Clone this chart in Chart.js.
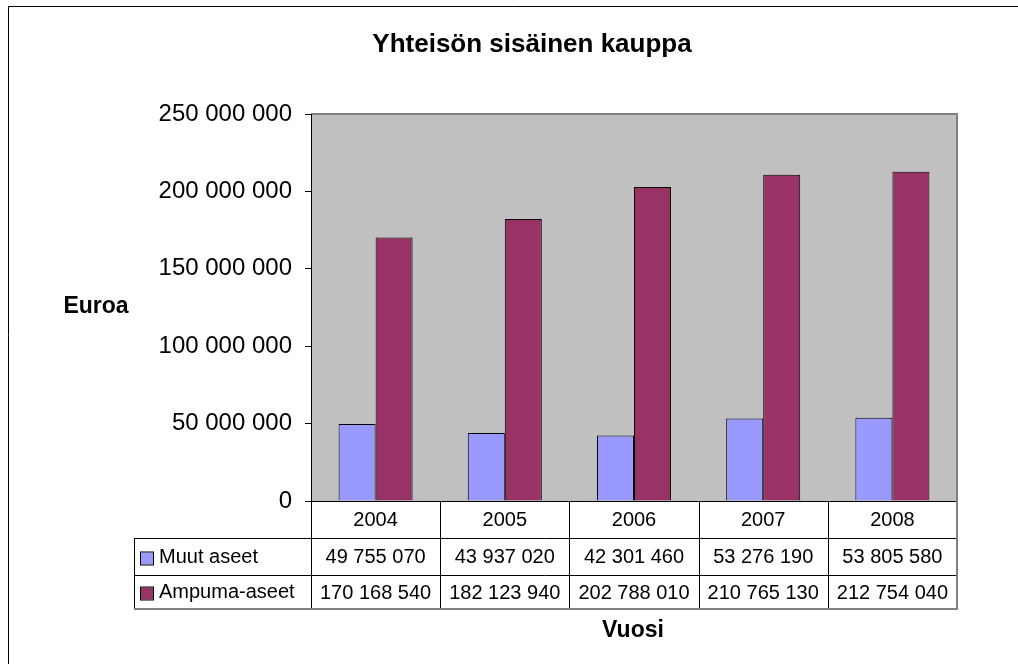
<!DOCTYPE html>
<html>
<head>
<meta charset="utf-8">
<style>
  html, body { margin: 0; padding: 0; background: #ffffff; }
  #wrap { width: 1018px; height: 664px; position: relative; }
  canvas { display: block; }
</style>
<script src="https://cdn.jsdelivr.net/npm/chart.js@4.4.1/dist/chart.umd.min.js"></script>
</head>
<body>
<div id="wrap"><canvas id="c" width="1018" height="664"></canvas></div>
<script>
const chartTitle = "Yhteisön sisäinen kauppa";
const yAxisTitle = "Euroa";
const xAxisTitle = "Vuosi";
const years = ["2004", "2005", "2006", "2007", "2008"];
const seriesNames = ["Muut aseet", "Ampuma-aseet"];
const muutAseet = [49755070, 43937020, 42301460, 53276190, 53805580];
const ampumaAseet = [170168540, 182123940, 202788010, 210765130, 212754040];
const seriesColors = ["#9999FF", "#993366"];
const yMin = 0, yMax = 250000000, yStep = 50000000;

function fmt(v) {
  return String(Math.round(v)).replace(/\B(?=(\d{3})+(?!\d))/g, " ");
}

const FONT = "'Liberation Sans', Arial, sans-serif";

const decorPlugin = {
  id: 'decor',
  beforeDraw(chart) {
    const { ctx, chartArea: a } = chart;
    ctx.save();
    // outer frame
    ctx.strokeStyle = '#000';
    ctx.lineWidth = 1;
    ctx.beginPath();
    ctx.moveTo(8.5, 700); ctx.lineTo(8.5, 6.5); ctx.lineTo(1100, 6.5);
    ctx.stroke();
    // plot background
    ctx.fillStyle = '#C0C0C0';
    ctx.fillRect(a.left, a.top, a.right - a.left, a.bottom - a.top);
    // top and right borders gray
    ctx.strokeStyle = '#808080';
    ctx.lineWidth = 2;
    ctx.beginPath();
    ctx.moveTo(a.left, a.top); ctx.lineTo(a.right, a.top); ctx.lineTo(a.right, a.bottom);
    ctx.stroke();
    ctx.restore();
  },
  afterDraw(chart) {
    const { ctx, chartArea: a } = chart;
    const xs = chart.scales.x;
    const n = years.length;
    const colW = (a.right - a.left) / n;
    const bounds = [];
    for (let i = 0; i <= n; i++) bounds.push(a.left + i * colW);
    const r0 = a.bottom, r1 = a.bottom + 37, r2 = a.bottom + 74, r3 = a.bottom + 107;
    const tblLeft = 134;
    ctx.save();
    // title
    ctx.fillStyle = '#000';
    ctx.textAlign = 'center';
    ctx.textBaseline = 'middle';
    ctx.font = "bold 26px " + FONT;
    ctx.fillText(chartTitle, 532, 45);
    ctx.font = "bold 23px " + FONT;
    ctx.fillText(yAxisTitle, 96, 307);
    ctx.fillText(xAxisTitle, 633, 631);

    // table lines
    ctx.lineWidth = 1;
    ctx.strokeStyle = '#000';
    ctx.beginPath();
    for (let i = 0; i < n; i++) {
      const x = Math.round(bounds[i]) + 0.5;
      ctx.moveTo(x, r0); ctx.lineTo(x, r3);
    }
    ctx.moveTo(tblLeft + 0.5, r1); ctx.lineTo(tblLeft + 0.5, r3);
    ctx.moveTo(tblLeft, r1 + 0.5); ctx.lineTo(a.right, r1 + 0.5);
    ctx.moveTo(tblLeft, r2 + 0.5); ctx.lineTo(a.right, r2 + 0.5);
    ctx.moveTo(a.left, r0 + 0.5); ctx.lineTo(a.right, r0 + 0.5);
    ctx.stroke();
    ctx.strokeStyle = '#808080';
    ctx.lineWidth = 2;
    ctx.beginPath();
    ctx.moveTo(a.right, r0); ctx.lineTo(a.right, r3 + 1);
    ctx.moveTo(tblLeft, r3 + 1); ctx.lineTo(a.right + 1, r3 + 1);
    ctx.stroke();

    // table text
    ctx.fillStyle = '#000';
    ctx.font = "20px " + FONT;
    ctx.textAlign = 'center';
    const rows = [muutAseet, ampumaAseet];
    for (let i = 0; i < n; i++) {
      const cx = xs.getPixelForValue(i);
      ctx.fillText(years[i], cx, (r0 + r1) / 2 + 1);
      ctx.fillText(fmt(rows[0][i]), cx, (r1 + r2) / 2 + 1);
      ctx.fillText(fmt(rows[1][i]), cx, (r2 + r3) / 2 + 2);
    }
    // legend keys
    ctx.textAlign = 'left';
    const rowMid = [(r1 + r2) / 2, (r2 + r3) / 2];
    for (let s = 0; s < 2; s++) {
      const y = rowMid[s] + 2;
      ctx.fillStyle = seriesColors[s];
      ctx.fillRect(141, y - 6, 12, 12);
      ctx.strokeStyle = '#000';
      ctx.lineWidth = 1;
      ctx.strokeRect(140.5, y - 6.5, 13, 13);
      ctx.fillStyle = '#000';
      ctx.fillText(seriesNames[s], 159, rowMid[s] + 1);
    }
    ctx.restore();
  }
};

new Chart(document.getElementById('c'), {
  type: 'bar',
  data: {
    labels: years,
    datasets: [
      { label: seriesNames[0], data: muutAseet, backgroundColor: seriesColors[0], borderColor: '#000', borderWidth: 1 },
      { label: seriesNames[1], data: ampumaAseet, backgroundColor: seriesColors[1], borderColor: '#000', borderWidth: 1 }
    ]
  },
  options: {
    responsive: false,
    animation: false,
    devicePixelRatio: 1,
    layout: { padding: { left: 0, right: 61, top: 114, bottom: 163 } },
    plugins: { legend: { display: false }, title: { display: false }, tooltip: { enabled: false } },
    datasets: { bar: { categoryPercentage: 0.573, barPercentage: 1.0 } },
    scales: {
      x: { display: false, offset: true },
      y: {
        min: yMin, max: yMax,
        afterFit(axis) { axis.width = 311; },
        border: { display: true, color: '#000', width: 1 },
        grid: { drawOnChartArea: false, drawTicks: true, tickLength: 6, color: '#000' },
        ticks: {
          stepSize: yStep,
          padding: 13,
          color: '#000',
          font: { family: FONT, size: 24 },
          callback: (v) => fmt(v)
        }
      }
    }
  },
  plugins: [decorPlugin]
});
</script>
</body>
</html>
